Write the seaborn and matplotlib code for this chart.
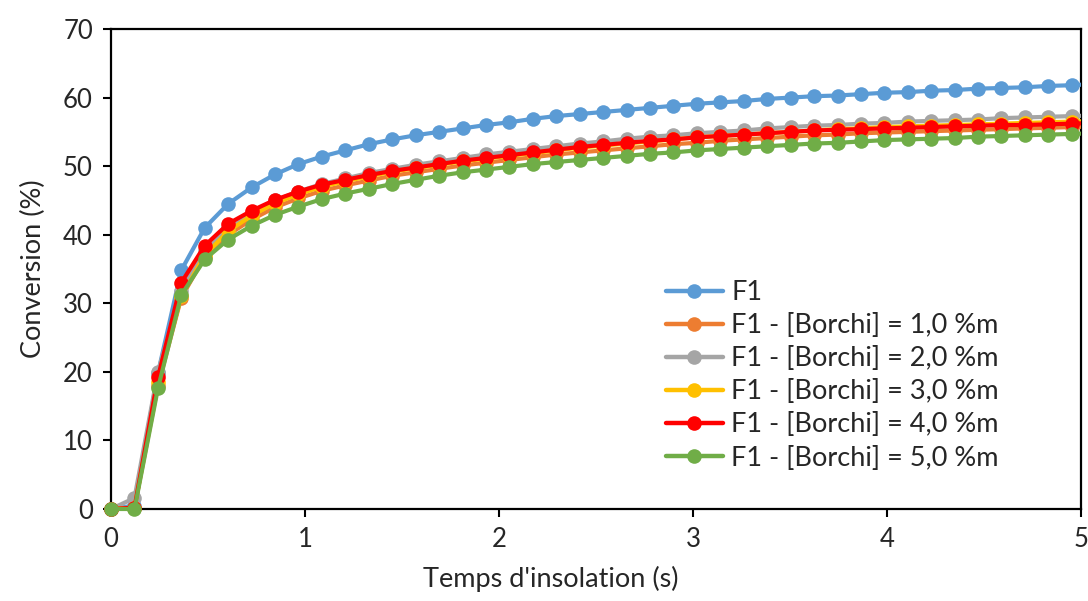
import numpy as np
import pandas as pd
import matplotlib
matplotlib.use("Agg")
import matplotlib.pyplot as plt
from matplotlib.patches import Rectangle
import seaborn as sns

# Time (s) of each measurement
temps = [0.000, 0.121, 0.242, 0.362, 0.483, 0.604, 0.725, 0.846, 0.966, 1.087,
         1.208, 1.329, 1.450, 1.570, 1.691, 1.812, 1.933, 2.054, 2.174, 2.295,
         2.416, 2.537, 2.658, 2.778, 2.899, 3.020, 3.141, 3.262, 3.382, 3.503,
         3.624, 3.745, 3.866, 3.986, 4.107, 4.228, 4.349, 4.470, 4.590, 4.711,
         4.832, 4.953, 5.074]

f1 = [0, 0.5, 19.8, 34.8, 41.0, 44.5, 46.9, 48.8, 50.3, 51.4,
      52.3, 53.2, 53.9, 54.5, 55.0, 55.5, 56.0, 56.4, 56.9, 57.3,
      57.6, 57.9, 58.2, 58.5, 58.8, 59.1, 59.3, 59.5, 59.8, 60.0,
      60.2, 60.3, 60.5, 60.7, 60.8, 61.0, 61.1, 61.3, 61.4, 61.5,
      61.7, 61.8, 62.0]

b1 = [0, 0.2, 18.0, 30.8, 36.8, 40.0, 42.2, 44.0, 45.3, 46.4,
      47.2, 47.9, 48.6, 49.1, 49.6, 50.1, 50.5, 50.9, 51.3, 51.7,
      52.0, 52.3, 52.6, 52.9, 53.2, 53.4, 53.7, 53.9, 54.1, 54.3,
      54.5, 54.6, 54.8, 54.9, 55.0, 55.1, 55.2, 55.3, 55.4, 55.5,
      55.6, 55.7, 55.8]

b2 = [0, 1.6, 20.0, 31.8, 37.8, 41.0, 43.2, 45.0, 46.3, 47.4,
      48.2, 49.0, 49.6, 50.2, 50.7, 51.2, 51.7, 52.1, 52.5, 52.9,
      53.3, 53.6, 54.0, 54.3, 54.5, 54.8, 55.0, 55.2, 55.5, 55.7,
      55.9, 56.0, 56.2, 56.3, 56.5, 56.6, 56.7, 56.8, 57.0, 57.1,
      57.2, 57.3, 57.4]

b3 = [0, 0.2, 18.5, 31.0, 37.0, 40.5, 42.8, 44.6, 45.9, 47.0,
      47.8, 48.5, 49.2, 49.7, 50.2, 50.7, 51.1, 51.5, 51.9, 52.3,
      52.7, 53.0, 53.3, 53.6, 53.9, 54.2, 54.4, 54.6, 54.8, 55.0,
      55.2, 55.4, 55.5, 55.7, 55.8, 55.9, 56.0, 56.1, 56.2, 56.3,
      56.4, 56.5, 56.6]

b4 = [0, 0.2, 19.2, 33.0, 38.4, 41.6, 43.5, 45.1, 46.3, 47.3,
      48.0, 48.7, 49.3, 49.8, 50.3, 50.8, 51.2, 51.6, 52.0, 52.4,
      52.8, 53.1, 53.4, 53.7, 53.9, 54.2, 54.4, 54.6, 54.8, 55.0,
      55.2, 55.3, 55.4, 55.5, 55.6, 55.7, 55.8, 55.9, 56.0, 56.0,
      56.1, 56.2, 56.3]

b5 = [0, 0.0, 17.6, 31.2, 36.4, 39.3, 41.3, 42.9, 44.1, 45.2,
      46.0, 46.7, 47.4, 48.0, 48.6, 49.1, 49.5, 49.9, 50.3, 50.6,
      50.9, 51.2, 51.5, 51.8, 52.0, 52.3, 52.5, 52.7, 52.9, 53.1,
      53.3, 53.4, 53.6, 53.8, 53.9, 54.0, 54.1, 54.3, 54.4, 54.5,
      54.6, 54.7, 54.8]

series_names = ["F1",
                "F1 - [Borchi] = 1,0 %m",
                "F1 - [Borchi] = 2,0 %m",
                "F1 - [Borchi] = 3,0 %m",
                "F1 - [Borchi] = 4,0 %m",
                "F1 - [Borchi] = 5,0 %m"]
series_values = [f1, b1, b2, b3, b4, b5]
colors = ["#5B9BD5", "#ED7D31", "#A5A5A5", "#FFC000", "#FF0000", "#70AD47"]

x_ticks = [0, 1, 2, 3, 4, 5]
y_ticks = [0, 10, 20, 30, 40, 50, 60, 70]

df = pd.concat([pd.DataFrame({"t": temps, "conv": v, "serie": n})
                for n, v in zip(series_names, series_values)], ignore_index=True)

sns.set_theme(style="white")
plt.rcParams["font.family"] = ["Lato", "DejaVu Sans"]

TXT = "#262626"
fig = plt.figure(figsize=(10.88, 6.01), dpi=100)
ax = fig.add_axes([111 / 1088, 1 - 509 / 601, (1081 - 111) / 1088, (509 - 29) / 601])

sns.lineplot(data=df, x="t", y="conv", hue="serie", hue_order=series_names,
             palette=dict(zip(series_names, colors)), marker="o", markersize=10.5,
             markeredgewidth=0, linewidth=3.0, sort=False, ax=ax)

ax.set_xlim(0, 5)
ax.set_ylim(0, 70)

# clip only at the right edge (points at x=0 / y=0 overlap the axes as in the reference)
clip_rect = Rectangle((-0.5, -10), 5.5, 90, transform=ax.transData)
for ln in ax.lines:
    ln.set_clip_path(clip_rect)

ax.set_xticks(x_ticks)
ax.set_yticks(y_ticks)
ax.set_xticklabels([str(v) for v in x_ticks])
ax.set_yticklabels([str(v) for v in y_ticks])
ax.tick_params(axis="both", direction="out", length=6, width=1.5, colors="black",
               labelsize=18.5, pad=7, left=True, bottom=True, labelcolor=TXT)
for s in ax.spines.values():
    s.set_color("black")
    s.set_linewidth(1.6)
    s.set_visible(True)
    s.set_zorder(0.5)

ax.set_xlabel("Temps d'insolation (s)", fontsize=19.5, color=TXT)
# the reference centres the x title on the whole chart rather than on the plot area
ax.xaxis.set_label_coords((551 - 111) / (1081 - 111), -0.118)
ax.xaxis.label.set_verticalalignment("top")
ax.set_ylabel("Conversion (%)", fontsize=19.5, labelpad=12, color=TXT)

leg = ax.legend(loc="upper left", bbox_to_anchor=(666 / 1088, 1 - 280 / 601),
                bbox_transform=fig.transFigure, frameon=False, fontsize=19.5,
                handlelength=2.1, handletextpad=0.3, labelspacing=0.3,
                borderpad=0, borderaxespad=0)
for t in leg.get_texts():
    t.set_color(TXT)
for h in leg.get_lines():
    h.set_linewidth(3.2)
    h.set_markersize(10.5)

fig.savefig("out.png", dpi=100)
